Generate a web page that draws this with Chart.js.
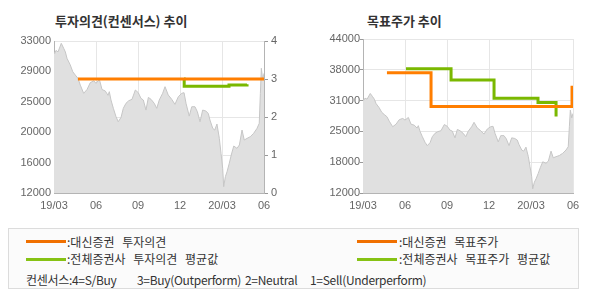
<!DOCTYPE html>
<html>
<head>
<meta charset="utf-8">
<script src="https://cdn.jsdelivr.net/npm/chart.js@4"></script>
<style>
    body { margin: 0; background: #fff; font-family: "Noto Sans CJK KR", sans-serif; }
    #wrap { position: relative; width: 590px; height: 300px; overflow: hidden; }
    canvas { position: absolute; top: 0; }
    .title { position: absolute; top: 12px; font-size: 13px; line-height: 18px; font-weight: bold; color: #333; }
    .legendBox { position: absolute; left: 8px; top: 228px; width: 569px; height: 59px; border: 1px solid #dcdcdc; background: #fbfbfb; }
    .swatch { position: absolute; width: 40px; height: 3px; }
    .ltext { position: absolute; font-size: 12px; line-height: 14px; color: #333; white-space: pre; word-spacing: 5px; }
    .ltext.row3 { letter-spacing: -0.3px; word-spacing: 0; }
</style>
</head>
<body>
<div id="wrap">
    <div class="title" style="left:55px">투자의견(컨센서스) 추이</div>
    <div class="title" style="left:367px">목표주가 추이</div>
    <canvas id="opinionChart" width="300" height="215" style="left:0"></canvas>
    <canvas id="targetChart" width="290" height="215" style="left:300px"></canvas>

    <div class="legendBox"></div>
    <div class="swatch" style="left:26px;top:240px;background:#f07000"></div>
    <div class="ltext" style="left:67px;top:235px">:대신증권 투자의견</div>
    <div class="swatch" style="left:26px;top:258px;background:#86c214"></div>
    <div class="ltext" style="left:67px;top:252px">:전체증권사 투자의견 평균값</div>
    <div class="swatch" style="left:357px;top:240px;background:#f07000"></div>
    <div class="ltext" style="left:399px;top:235px">:대신증권 목표주가</div>
    <div class="swatch" style="left:357px;top:258px;background:#86c214"></div>
    <div class="ltext" style="left:399px;top:252px">:전체증권사 목표주가 평균값</div>
    <div class="ltext row3" style="left:26px;top:273px">컨센서스:4=S/Buy</div>
    <div class="ltext row3" style="left:137px;top:273px">3=Buy(Outperform)</div>
    <div class="ltext row3" style="left:245px;top:273px">2=Neutral</div>
    <div class="ltext row3" style="left:310px;top:273px">1=Sell(Underperform)</div>
</div>

<script>
// x축: 0 = 19/03, 15 = 20/06 (월 단위)
const monthLabels = ["19/03", "06", "09", "12", "20/03", "06"];

// 주가
const priceMonths = [0, 0.05, 0.14, 0.29, 0.52, 0.69, 0.81, 0.93, 1.16, 1.34,
    1.52, 1.71, 1.88, 2.12, 2.36, 2.59, 2.84, 3.0, 3.24, 3.43,
    3.66, 3.86, 3.95, 4.07, 4.24, 4.43, 4.59, 4.79, 4.95, 5.14,
    5.34, 5.57, 5.81, 6.02, 6.21, 6.38, 6.57, 6.74, 6.93, 7.16,
    7.34, 7.52, 7.76, 7.93, 8.16, 8.41, 8.64, 8.88, 9.12, 9.29,
    9.43, 9.66, 9.84, 10.07, 10.24, 10.43, 10.62, 10.84, 11.02, 11.14,
    11.34, 11.48, 11.64, 11.81, 11.93, 12.05, 12.12, 12.24, 12.36, 12.52,
    12.66, 12.84, 13.07, 13.24, 13.43, 13.59, 13.79, 14.02, 14.26, 14.5,
    14.66, 14.74, 14.81, 14.91, 15];
const prices = [31400, 31300, 31700, 31500, 32680, 32000, 31500, 30600, 29700, 28760,
    28300, 27850, 26900, 25770, 26300, 27240, 27500, 27150, 27700, 26300,
    26100, 25500, 26000, 24850, 23700, 22540, 21850, 22450, 23700, 24390,
    24750, 24940, 26230, 25860, 25080, 24850, 23460, 25210, 24940, 24390,
    23700, 24850, 25770, 26690, 25540, 24940, 24250, 25300, 25770, 25860,
    24390, 22630, 23920, 23920, 23230, 21850, 23460, 23330, 23000, 22080,
    20930, 20700, 21530, 19550, 17480, 15410, 12870, 14250, 14940, 16100,
    17250, 18490, 18170, 18630, 20700, 19320, 19550, 19780, 20240, 20930,
    21620, 25770, 29230, 27610, 28530];

// 투자의견
const dsOpinionMonths = [1.71, 15];
const dsOpinion = [3, 3];
const avgOpinionMonths = [9.29, 9.3, 12.5, 13.79];
const avgOpinion = [3, 2.81, 2.84, 2.86];
const opinionPriceTicks = ["12000", "16000", "20000", "25000", "29000", "33000"];

// 목표주가
const dsTargetMonths = [1.71, 4.86, 14.93];
const dsTarget = [37000, 30000, 34300];
const avgTargetMonths = [3.07, 6.29, 9.36, 12.5, 13.79];
const avgTarget = [37800, 35500, 31700, 30800, 27900];
const targetPriceTicks = ["12000", "18000", "25000", "31000", "38000", "44000"];

const ORANGE = "#ff7e00";
const GREEN = "#7ab800";
const GRID = "#e6e6e6";
const AXIS = "#b4b4b4";
const TICK_FONT = { family: "'Liberation Sans', Arial, sans-serif", size: 11 };

function toPoints(xs, ys) {
    return xs.map((x, i) => ({ x: x, y: ys[i] }));
}

// 축 크기 고정 (자동 여백 제거)
function fixSize(prop, size) {
    return function (scale) {
        scale[prop] = size;
        scale.paddingTop = 0;
        scale.paddingBottom = 0;
        scale.paddingLeft = 0;
        scale.paddingRight = 0;
    };
}

function stepLine(xs, ys, color, axisId) {
    return {
        data: toPoints(xs, ys),
        borderColor: color,
        borderWidth: 3,
        stepped: true,
        pointRadius: 0,
        fill: false,
        yAxisID: axisId
    };
}

function priceLine() {
    return {
        data: toPoints(priceMonths, prices),
        borderColor: "#c6c6c6",
        backgroundColor: "#e0e0e0",
        borderWidth: 1,
        pointRadius: 0,
        fill: "start",
        yAxisID: "y"
    };
}

function monthAxis() {
    return {
        type: "linear",
        min: 0,
        max: 15,
        ticks: {
            stepSize: 3,
            autoSkip: false,
            maxRotation: 0,
            padding: 6,
            color: "#666",
            font: TICK_FONT,
            callback: (v, i) => monthLabels[i]
        },
        grid: { color: GRID, drawTicks: false },
        border: { color: AXIS },
        afterFit: fixSize("height", 22)
    };
}

const common = {
    responsive: false,
    animation: false,
    devicePixelRatio: 1,
    plugins: { legend: { display: false }, tooltip: { enabled: false } }
};

// 투자의견 차트
new Chart(document.getElementById("opinionChart"), {
    type: "line",
    data: {
        datasets: [
            stepLine(dsOpinionMonths, dsOpinion, ORANGE, "y1"),
            stepLine(avgOpinionMonths, avgOpinion, GREEN, "y1"),
            priceLine()
        ]
    },
    options: Object.assign({}, common, {
        layout: { padding: { top: 41, left: 0, right: 0, bottom: 0 } },
        scales: {
            x: monthAxis(),
            y: {
                type: "linear",
                position: "left",
                min: 12000,
                max: 33000,
                ticks: { stepSize: 4200, padding: 3, color: "#666", font: TICK_FONT, callback: (v, i) => opinionPriceTicks[i] },
                grid: { display: false, drawTicks: false },
                border: { color: AXIS },
                afterFit: fixSize("width", 54)
            },
            y1: {
                type: "linear",
                position: "right",
                min: 0,
                max: 4,
                ticks: { stepSize: 1, padding: 3, color: "#666", font: TICK_FONT },
                grid: { color: GRID, tickLength: 4, tickColor: "#999" },
                border: { color: AXIS },
                afterFit: fixSize("width", 36)
            }
        }
    })
});

// 목표주가 차트
new Chart(document.getElementById("targetChart"), {
    type: "line",
    data: {
        datasets: [
            stepLine(dsTargetMonths, dsTarget, ORANGE, "y"),
            stepLine(avgTargetMonths, avgTarget, GREEN, "y"),
            priceLine()
        ]
    },
    options: Object.assign({}, common, {
        layout: { padding: { top: 39, left: 0, right: 17, bottom: 0 } },
        scales: {
            x: monthAxis(),
            y: {
                type: "linear",
                position: "left",
                min: 12000,
                max: 44000,
                ticks: { stepSize: 6400, padding: 0, color: "#666", font: TICK_FONT, callback: (v, i) => targetPriceTicks[i] },
                grid: { color: GRID, tickLength: 3, tickColor: "#999" },
                border: { color: AXIS },
                afterFit: fixSize("width", 63)
            }
        }
    })
});
</script>
</body>
</html>
